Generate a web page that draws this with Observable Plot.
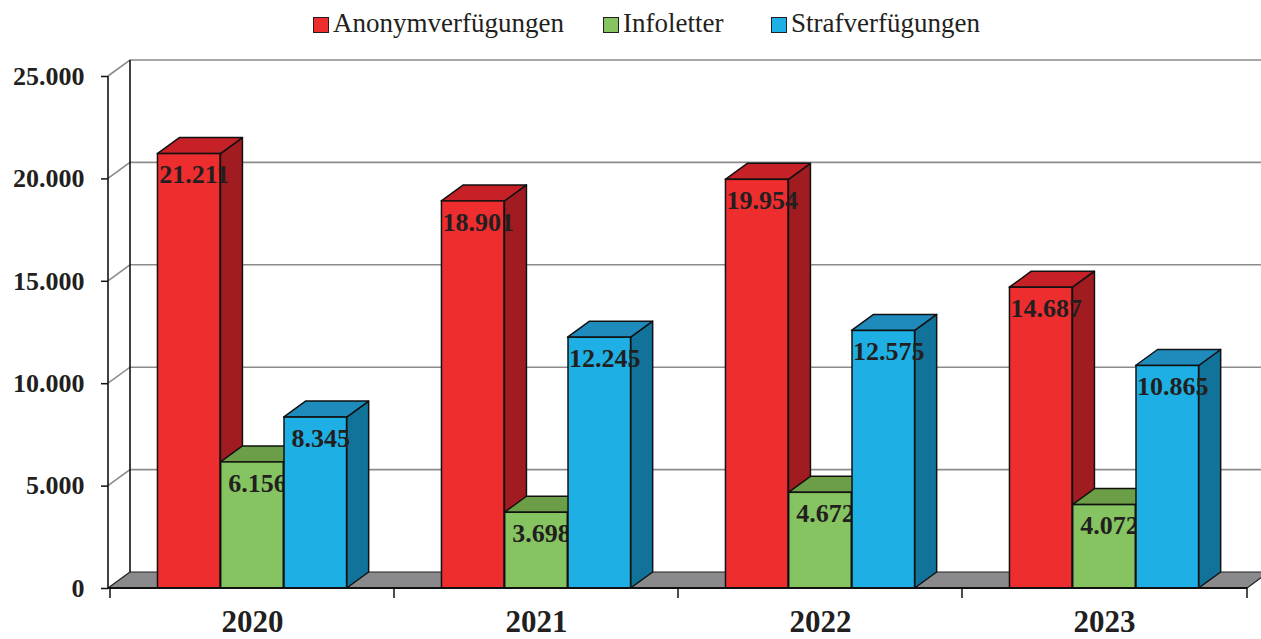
<!DOCTYPE html>
<html>
<head>
<meta charset="utf-8">
<script src="https://cdn.jsdelivr.net/npm/d3@7"></script>
<script src="https://cdn.jsdelivr.net/npm/@observablehq/plot@0.6"></script>
<style>
  body { margin: 0; background: #fff; }
  #legend { position: relative; width: 1261px; height: 45px; font-family: "Liberation Serif", "Times New Roman", serif; font-size: 27px; color: #231f20; }
  #legend .sw { position: absolute; top: 17px; width: 14px; height: 14px; border: 1px solid #231f20; }
  #legend .lb { position: absolute; top: 10px; line-height: 27px; white-space: nowrap; }
  #chart svg { display: block; }
</style>
</head>
<body>
<div id="legend"></div>
<div id="chart"></div>
<script>
// ---- data ----
const years = ["2020", "2021", "2022", "2023"];
const seriesNames = ["Anonymverfügungen", "Infoletter", "Strafverfügungen"];
const anonymverfuegungen = [21211, 18901, 19954, 14687];
const infoletter = [6156, 3698, 4672, 4072];
const strafverfuegungen = [8345, 12245, 12575, 10865];
const yTicks = [0, 5000, 10000, 15000, 20000, 25000];

// ---- style ----
const frontColors = ["#ee2d2f", "#86c462", "#1eb0e4"];
const topColors = ["#c62127", "#6b9e46", "#1e8bbc"];
const sideColors = ["#a01c20", "#5a8a3a", "#11739a"];
const legendLeft = [313, 603, 771];

const W = 1261, H = 594;
const mL = 108, mR = 14, mT = 31, mB = 51;
const DX = 22, DY = -16;          // 3D depth offset (px)
const GROUP_PAD = 1 / 6, BAR_FRAC = 2 / 9;
const BW = (W - mL - mR) / years.length;

const seriesValues = [anonymverfuegungen, infoletter, strafverfuegungen];
const rows = [];
years.forEach((year, i) => seriesValues.forEach((vals, j) => rows.push({year, series: seriesNames[j], j, value: vals[i]})));

const de = d3.formatLocale({decimal: ",", thousands: ".", grouping: [3], currency: ["", " €"]});
const fmt = de.format(",d");

// ---- legend ----
const legend = d3.select("#legend");
seriesNames.forEach((name, j) => {
  legend.append("div").attr("class", "sw").style("left", legendLeft[j] + "px").style("background", frontColors[j]);
  legend.append("div").attr("class", "lb").style("left", (legendLeft[j] + 20) + "px").text(name);
});

// ---- custom 3D marks (positions from Plot's scales) ----
function walls(index, scales) {
  const {x, y} = scales;
  const [xL, xR] = x.range();
  const g = d3.create("svg:g");
  yTicks.filter(t => t > 0).forEach(t => {
    const yy = y(t);
    g.append("path")
      .attr("d", `M${xL},${yy}L${xL + DX},${yy + DY}L${xR + DX + 30},${yy + DY}`)
      .attr("fill", "none").attr("stroke", "#8c8c8c").attr("stroke-width", 1.6);
  });
  const top = y(yTicks[yTicks.length - 1]), y0 = y(0);
  g.append("line").attr("x1", xL + DX).attr("x2", xL + DX).attr("y1", y0 + DY).attr("y2", top + DY)
    .attr("stroke", "#111").attr("stroke-width", 1.6);
  g.append("line").attr("x1", xL).attr("x2", xL).attr("y1", y0).attr("y2", top)
    .attr("stroke", "#111").attr("stroke-width", 1.6);
  // floor
  g.append("path")
    .attr("d", `M${xL},${y0}L${xR},${y0}L${xR + DX},${y0 + DY}L${xL + DX},${y0 + DY}Z`)
    .attr("fill", "#8a8a8c").attr("stroke", "#222").attr("stroke-width", 1.2).attr("stroke-linejoin", "round");
  return g.node();
}

function faces(j) {
  return (index, scales) => {
    const {x, y} = scales;
    const bw = x.bandwidth ? x.bandwidth() : BW;
    const g = d3.create("svg:g").attr("stroke", "#111").attr("stroke-width", 1.5).attr("stroke-linejoin", "round");
    rows.filter(r => r.j === j).forEach(r => {
      const x1 = x(r.year) + bw * (GROUP_PAD + j * BAR_FRAC);
      const x2 = x1 + bw * BAR_FRAC;
      const yv = y(r.value), y0 = y(0);
      g.append("path").attr("fill", sideColors[j])
        .attr("d", `M${x2},${yv}L${x2 + DX},${yv + DY}L${x2 + DX},${y0 + DY}L${x2},${y0}Z`);
      g.append("path").attr("fill", topColors[j])
        .attr("d", `M${x1},${yv}L${x2},${yv}L${x2 + DX},${yv + DY}L${x1 + DX},${yv + DY}Z`);
    });
    return g.node();
  };
}

function xAxisLine(index, scales) {
  const {x, y} = scales;
  const [xL, xR] = x.range();
  const y0 = y(0);
  const g = d3.create("svg:g").attr("stroke", "#111");
  g.append("line").attr("x1", xL).attr("x2", xR).attr("y1", y0).attr("y2", y0).attr("stroke-width", 2);
  years.map(d => x(d)).concat([xR]).forEach(px => {
    g.append("line").attr("x1", px).attr("x2", px).attr("y1", y0).attr("y2", y0 + 10).attr("stroke-width", 1.5);
  });
  return g.node();
}

const marks = [walls];
seriesNames.forEach((name, j) => {
  const data = rows.filter(r => r.j === j);
  const insetLeft = BW * (GROUP_PAD + j * BAR_FRAC);
  const insetRight = BW - insetLeft - BW * BAR_FRAC;
  marks.push(faces(j));
  marks.push(Plot.barY(data, {
    x: "year", y: "value", fill: frontColors[j], stroke: "#111", strokeWidth: 1.5,
    insetLeft, insetRight
  }));
  marks.push(Plot.text(data, {
    x: "year", y: "value", text: d => fmt(d.value),
    dx: (j - 1) * BW * BAR_FRAC + 5, dy: 21,
    fontSize: 26, fontWeight: "bold", fill: "#231f20"
  }));
});
marks.push(xAxisLine);
marks.push(Plot.axisY({
  ticks: yTicks, tickFormat: fmt, tickSize: 7, tickPadding: 17,
  fontSize: 26, fontWeight: "bold", color: "#231f20", stroke: "#111", strokeWidth: 1.5, label: null
}));
marks.push(Plot.axisX({
  tickSize: 0, tickPadding: 21, fontSize: 31, fontWeight: "bold", color: "#231f20", label: null
}));

const chart = Plot.plot({
  width: W, height: H,
  marginLeft: mL, marginRight: mR, marginTop: mT, marginBottom: mB,
  style: {fontFamily: "'Liberation Serif', 'Times New Roman', serif", background: "#fff", overflow: "hidden"},
  x: {type: "band", domain: years, padding: 0, axis: null},
  y: {domain: [0, 25000], axis: null},
  marks
});
document.getElementById("chart").appendChild(chart);
</script>
</body>
</html>
